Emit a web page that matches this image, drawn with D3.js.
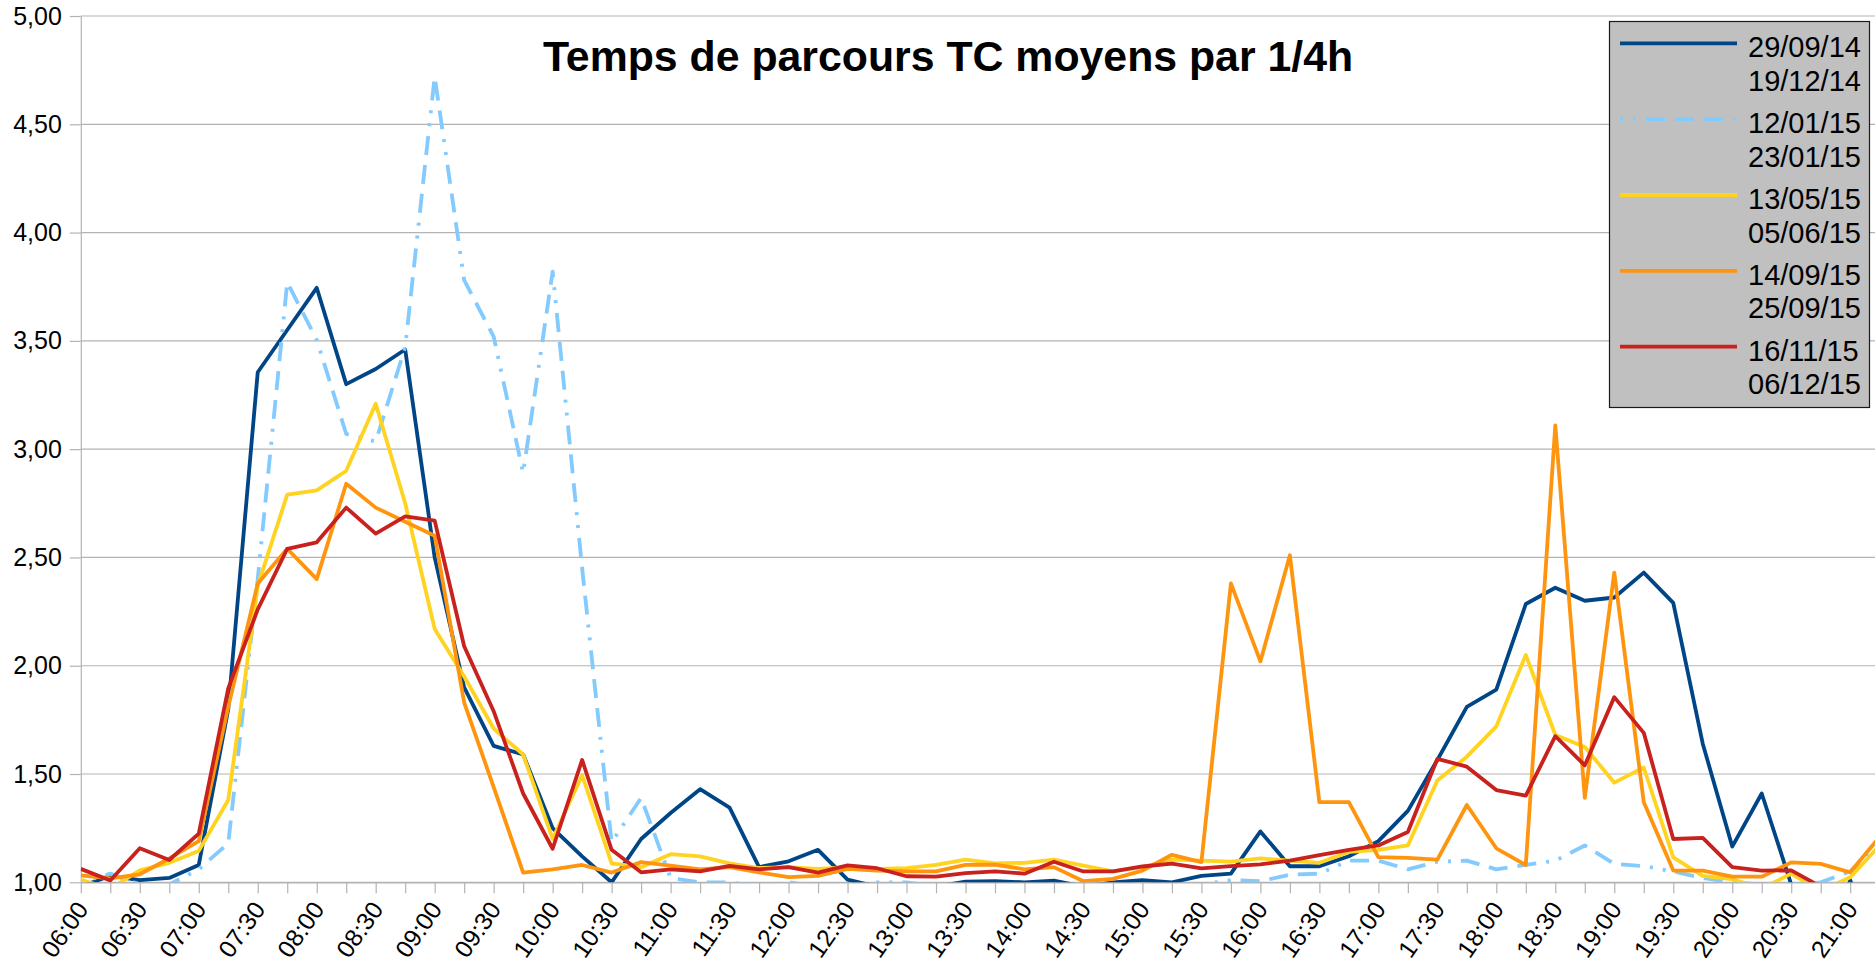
<!DOCTYPE html>
<html>
<head>
<meta charset="utf-8">
<script src="https://cdn.jsdelivr.net/npm/d3@7"></script>
<style>
  html, body { margin: 0; padding: 0; background: #fff; overflow: hidden; }
  svg { display: block; font-family: 'Liberation Sans', Arial, sans-serif; }
</style>
</head>
<body>
<svg id="chart" width="1875" height="966"></svg>
<script>
const chartTitle = 'Temps de parcours TC moyens par 1/4h';

// one category per quarter of an hour
const quarters = [
  '06:00', '06:15', '06:30', '06:45', '07:00', '07:15', '07:30', '07:45',
  '08:00', '08:15', '08:30', '08:45', '09:00', '09:15', '09:30', '09:45',
  '10:00', '10:15', '10:30', '10:45', '11:00', '11:15', '11:30', '11:45',
  '12:00', '12:15', '12:30', '12:45', '13:00', '13:15', '13:30', '13:45',
  '14:00', '14:15', '14:30', '14:45', '15:00', '15:15', '15:30', '15:45',
  '16:00', '16:15', '16:30', '16:45', '17:00', '17:15', '17:30', '17:45',
  '18:00', '18:15', '18:30', '18:45', '19:00', '19:15', '19:30', '19:45',
  '20:00', '20:15', '20:30', '20:45', '21:00', '21:15'
];

const yTicks = [1, 1.5, 2, 2.5, 3, 3.5, 4, 4.5, 5];

const periodLabels = [
  ['29/09/14', '19/12/14'],
  ['12/01/15', '23/01/15'],
  ['13/05/15', '05/06/15'],
  ['14/09/15', '25/09/15'],
  ['16/11/15', '06/12/15']
];

const period1 = [
  0.98, 1.03, 1.01, 1.02, 1.08, 1.80, 3.355, 3.55, 3.745, 3.30, 3.37, 3.46,
  2.50, 1.90, 1.63, 1.59, 1.25, 1.12, 1.00, 1.20, 1.32, 1.43, 1.345, 1.07,
  1.097, 1.15, 1.012, 0.98, 0.98, 0.98, 1.003, 1.005, 1.00, 1.008, 0.98, 1.00,
  1.01, 1.00, 1.03, 1.04, 1.235, 1.074, 1.074, 1.12, 1.19, 1.33, 1.565, 1.81,
  1.89, 2.285, 2.36, 2.30, 2.315, 2.43, 2.29, 1.64, 1.165, 1.41, 0.99, 0.6,
  1.01, 0.6
];

const period2 = [
  1.00, 1.04, 0.99, 0.99, 1.06, 1.18, 2.40, 3.77, 3.505, 3.07, 3.035, 3.47,
  4.72, 3.78, 3.52, 2.89, 3.82, 2.45, 1.185, 1.39, 1.02, 1.00, 1.00, 0.98,
  1.00, 0.98, 0.98, 1.00, 1.00, 0.98, 0.98, 0.98, 0.98, 0.98, 0.98, 0.98,
  0.98, 0.98, 0.99, 1.01, 1.005, 1.035, 1.04, 1.10, 1.10, 1.06, 1.095, 1.10,
  1.06, 1.08, 1.10, 1.17, 1.085, 1.075, 1.05, 1.02, 1.00, 0.99, 0.99, 1.00,
  1.05, 1.18
];

const period3 = [
  1.012, 0.97, 1.055, 1.09, 1.145, 1.38, 2.37, 2.79, 2.81, 2.90, 3.21, 2.75,
  2.17, 1.95, 1.71, 1.59, 1.20, 1.495, 1.087, 1.07, 1.13, 1.12, 1.087, 1.066,
  1.07, 1.062, 1.07, 1.062, 1.065, 1.08, 1.105, 1.087, 1.09, 1.105, 1.077, 1.05,
  1.07, 1.105, 1.10, 1.095, 1.11, 1.10, 1.09, 1.14, 1.15, 1.17, 1.47, 1.58,
  1.72, 2.05, 1.68, 1.625, 1.46, 1.53, 1.115, 1.03, 1.015, 0.97, 1.04, 0.96,
  1.023, 1.17
];

const period4 = [
  1.032, 1.018, 1.037, 1.11, 1.19, 1.81, 2.38, 2.54, 2.40, 2.84, 2.73, 2.665,
  2.60, 1.83, 1.44, 1.045, 1.06, 1.08, 1.045, 1.093, 1.077, 1.06, 1.07, 1.046,
  1.024, 1.03, 1.062, 1.054, 1.05, 1.05, 1.08, 1.082, 1.06, 1.07, 1.005, 1.016,
  1.054, 1.127, 1.093, 2.38, 2.02, 2.51, 1.37, 1.37, 1.116, 1.113, 1.105, 1.357,
  1.157, 1.08, 3.11, 1.39, 2.43, 1.37, 1.054, 1.054, 1.026, 1.026, 1.092, 1.085,
  1.046, 1.21
];

const period5 = [
  1.062, 1.008, 1.157, 1.103, 1.225, 1.895, 2.26, 2.54, 2.57, 2.73, 2.61, 2.69,
  2.67, 2.09, 1.79, 1.41, 1.155, 1.565, 1.15, 1.046, 1.06, 1.05, 1.076, 1.06,
  1.07, 1.045, 1.078, 1.065, 1.028, 1.026, 1.042, 1.05, 1.04, 1.095, 1.05, 1.05,
  1.073, 1.086, 1.064, 1.075, 1.083, 1.10, 1.126, 1.15, 1.17, 1.232, 1.57, 1.534,
  1.426, 1.40, 1.675, 1.54, 1.855, 1.69, 1.20, 1.205, 1.07, 1.054, 1.055, 0.98,
  null, null
];

const seriesValues = [period1, period2, period3, period4, period5];

// drawing styles, in the same order as the series
const seriesColors = ['#004586', '#83caff', '#ffd320', '#ff950e', '#c9211e'];
const seriesDash = [null, '3,10,3,10,19,10,19,10,19,10', null, null, null];

const svg = d3.select('#chart');
const width = +svg.attr('width');
const plot = { left: 80.8, top: 16, bottom: 882.3, right: width };
const gridColor = '#b3b3b3';

//
// scales
//
const x = d3
  .scalePoint()
  .domain(quarters)
  .range([plot.left, plot.left + 29.49 * (quarters.length - 1)]);
const y = d3
  .scaleLinear()
  .domain([1, 5])
  .range([plot.bottom, plot.top]);

const comma = d => d3.format('.2f')(d).replace('.', ',');

svg.append('rect').attr('width', width).attr('height', 966).attr('fill', '#fff');

svg
  .append('defs')
  .append('clipPath')
  .attr('id', 'plot-clip')
  .append('rect')
  .attr('x', plot.left)
  .attr('y', plot.top - 2)
  .attr('width', plot.right - plot.left)
  .attr('height', plot.bottom - plot.top + 2);

//
// horizontal grid
//
svg
  .append('g')
  .selectAll('line')
  .data(yTicks)
  .join('line')
  .attr('x1', plot.left)
  .attr('x2', plot.right)
  .attr('y1', d => y(d))
  .attr('y2', d => y(d))
  .attr('stroke', gridColor)
  .attr('stroke-width', 1.2);

//
// axes
//
const yAxis = svg
  .append('g')
  .attr('transform', `translate(${plot.left},0)`)
  .call(
    d3
      .axisLeft(y)
      .tickValues(yTicks)
      .tickFormat(comma)
      .tickSize(11)
      .tickSizeOuter(0)
      .tickPadding(8)
  );

const xAxis = svg
  .append('g')
  .attr('transform', `translate(0,${plot.bottom})`)
  .call(
    d3
      .axisBottom(x)
      .tickSize(11)
      .tickSizeOuter(0)
      .tickFormat(d => (d.endsWith(':00') || d.endsWith(':30') ? d : ''))
  );

[yAxis, xAxis].forEach(axis => {
  axis.select('.domain').attr('stroke', gridColor).attr('stroke-width', 1.2);
  axis.selectAll('.tick line').attr('stroke', gridColor).attr('stroke-width', 1.2);
  axis
    .selectAll('.tick text')
    .attr('fill', '#000')
    .style('font-family', "'Liberation Sans', Arial, sans-serif")
    .style('font-size', '25px');
});

// rotated time labels, kept just inside the bottom edge
xAxis
  .selectAll('.tick text')
  .attr('x', 0)
  .attr('y', 0)
  .attr('dy', 0)
  .attr('text-anchor', 'end')
  .style('font-size', '24.5px')
  .attr('transform', 'translate(8,27) rotate(-55)');

//
// series lines
//
const line = d3
  .line()
  .defined(d => d != null)
  .x((d, i) => x(quarters[i]))
  .y(d => y(d));

svg
  .append('g')
  .attr('clip-path', 'url(#plot-clip)')
  .selectAll('path')
  .data(seriesValues)
  .join('path')
  .attr('d', line)
  .attr('fill', 'none')
  .attr('stroke', (d, i) => seriesColors[i])
  .attr('stroke-width', 3.8)
  .attr('stroke-linejoin', 'round')
  .attr('stroke-dasharray', (d, i) => seriesDash[i]);

//
// title
//
svg
  .append('text')
  .attr('x', 948)
  .attr('y', 71)
  .attr('text-anchor', 'middle')
  .style('font-size', '42.8px')
  .style('font-weight', 'bold')
  .text(chartTitle);

//
// legend
//
const legend = svg.append('g');
legend
  .append('rect')
  .attr('x', 1609.5)
  .attr('y', 21.5)
  .attr('width', 260)
  .attr('height', 386)
  .attr('fill', '#c0c0c0')
  .attr('stroke', '#1a1a1a')
  .attr('stroke-width', 1.2);

const entry = legend
  .selectAll('g.entry')
  .data(periodLabels)
  .join('g')
  .attr('class', 'entry')
  .attr('transform', (d, i) => `translate(0,${43.3 + i * 75.85})`);

entry
  .append('line')
  .attr('x1', 1620)
  .attr('x2', 1737)
  .attr('stroke', (d, i) => seriesColors[i])
  .attr('stroke-width', 3.8)
  .attr('stroke-dasharray', (d, i) => seriesDash[i]);

entry
  .selectAll('text')
  .data(d => d)
  .join('text')
  .attr('x', 1748)
  .attr('y', (d, j) => 14 + j * 33.5)
  .style('font-size', '29px')
  .attr('fill', '#000')
  .text(d => d);
</script>
</body>
</html>
